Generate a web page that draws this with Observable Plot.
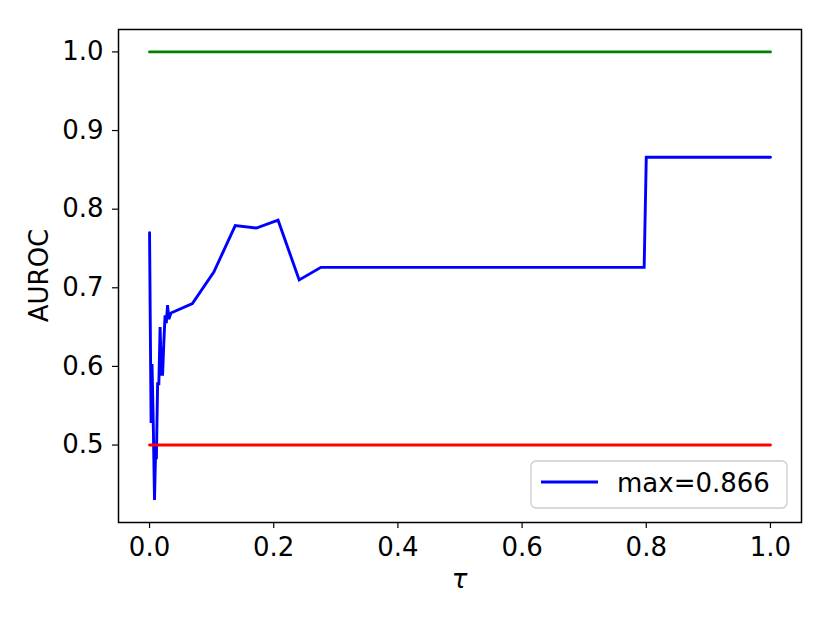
<!DOCTYPE html>
<html>
<head>
<meta charset="utf-8">
<script src="https://cdn.jsdelivr.net/npm/d3@7"></script>
<script src="https://cdn.jsdelivr.net/npm/@observablehq/plot@0.6"></script>
<style>
  html, body { margin: 0; padding: 0; background: #fff; }
  #chart { width: 830px; height: 623px; }
</style>
</head>
<body>
<div id="chart"></div>
<script>
// Data
const tau = [0.000, 0.0025, 0.004, 0.006, 0.008, 0.010, 0.011, 0.013, 0.015, 0.017, 0.019, 0.021, 0.023, 0.025, 0.027, 0.029, 0.031, 0.0345, 0.069, 0.1035, 0.138, 0.172, 0.207, 0.241, 0.276, 0.7966, 0.800, 1.000];
const auroc = [0.770, 0.528, 0.603, 0.527, 0.430, 0.500, 0.482, 0.578, 0.578, 0.650, 0.590, 0.590, 0.630, 0.665, 0.655, 0.678, 0.660, 0.668, 0.680, 0.720, 0.779, 0.776, 0.786, 0.710, 0.726, 0.726, 0.866, 0.866];
const refTau = [0, 1];
const perfect = [1.0, 1.0];
const chance = [0.5, 0.5];
const xTicks = [0, 0.2, 0.4, 0.6, 0.8, 1.0];
const yTicks = [0.5, 0.6, 0.7, 0.8, 0.9, 1.0];

const series = tau.map((t, i) => ({t, v: auroc[i]}));
const perfectData = refTau.map((t, i) => ({t, v: perfect[i]}));
const chanceData = refTau.map((t, i) => ({t, v: chance[i]}));
const maxVal = d3.max(auroc);

const font = "DejaVu Sans, Liberation Sans, sans-serif";
const W = 830, H = 623;
const mL = 118, mR = 29, mT = 29, mB = 101;
const lw = 2.9;

const chart = Plot.plot({
  width: W,
  height: H,
  marginLeft: mL,
  marginRight: mR,
  marginTop: mT,
  marginBottom: mB,
  style: {fontFamily: font, fontSize: "26px", color: "black", background: "white"},
  x: {domain: [-0.05, 1.05]},
  y: {domain: [0.4015, 1.0285]},
  marks: [
    Plot.line(perfectData, {x: "t", y: "v", stroke: "green", strokeWidth: lw}),
    Plot.line(series, {x: "t", y: "v", stroke: "blue", strokeWidth: lw, strokeLinejoin: "miter", strokeMiterlimit: 2}),
    Plot.line(chanceData, {x: "t", y: "v", stroke: "red", strokeWidth: lw}),
    Plot.axisX({ticks: xTicks, tickFormat: d3.format(".1f"), tickSize: 6, tickPadding: 9, label: null, fontSize: 26, stroke: "black", strokeWidth: 1.2}),
    Plot.axisY({ticks: yTicks, tickFormat: d3.format(".1f"), tickSize: 6, tickPadding: 9, label: null, fontSize: 26, stroke: "black", strokeWidth: 1.2}),
    Plot.frame({stroke: "black", strokeWidth: 1.5, strokeOpacity: 1})
  ]
});

document.getElementById("chart").appendChild(chart);

const svg = d3.select(chart);
const fx0 = mL, fx1 = W - mR, fy0 = mT, fy1 = H - mB;

// Axis titles
svg.append("text")
  .attr("x", (fx0 + fx1) / 2)
  .attr("y", 588)
  .attr("text-anchor", "middle")
  .attr("font-family", font)
  .attr("font-size", 26)
  .attr("font-style", "italic")
  .attr("fill", "black")
  .text("τ");
svg.append("text")
  .attr("transform", `translate(48, ${(fy0 + fy1) / 2}) rotate(-90)`)
  .attr("text-anchor", "middle")
  .attr("font-family", font)
  .attr("font-size", 26)
  .attr("fill", "black")
  .text("AUROC");

// Legend (lower right, matplotlib style)
const lg = svg.append("g");
lg.append("rect")
  .attr("x", 531).attr("y", 461)
  .attr("width", 256).attr("height", 47)
  .attr("rx", 5).attr("ry", 5)
  .attr("fill", "white").attr("fill-opacity", 0.8)
  .attr("stroke", "#cccccc").attr("stroke-width", 1.3);
lg.append("line")
  .attr("x1", 541).attr("x2", 598)
  .attr("y1", 482).attr("y2", 482)
  .attr("stroke", "blue").attr("stroke-width", lw);
lg.append("text")
  .attr("x", 617).attr("y", 492)
  .attr("text-anchor", "start")
  .attr("font-family", font)
  .attr("font-size", 26)
  .attr("fill", "black")
  .text(`max=${maxVal.toFixed(3)}`);
</script>
</body>
</html>
